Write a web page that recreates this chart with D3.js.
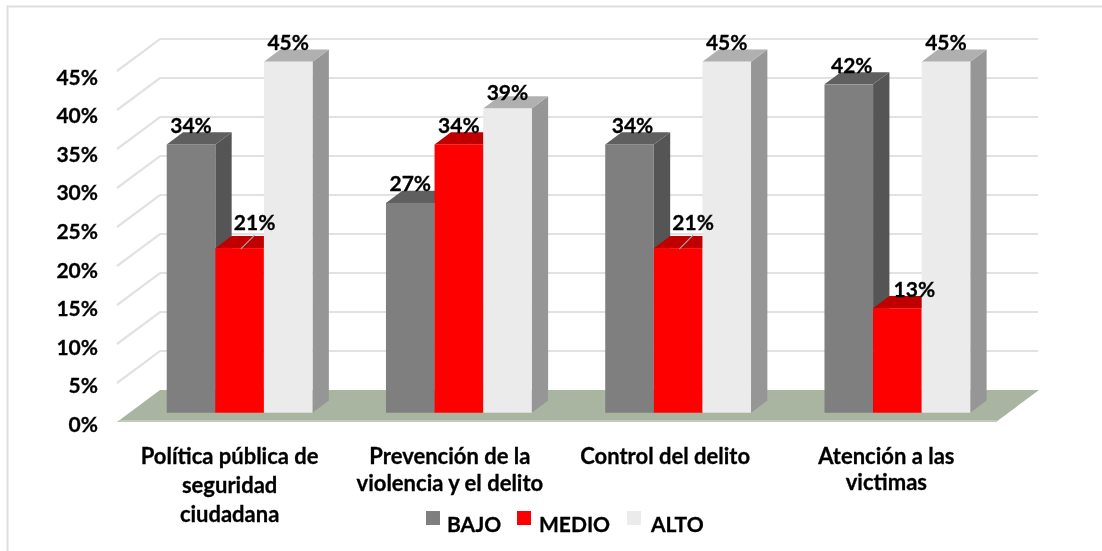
<html>
<head>
<title>Seguridad ciudadana</title>
<script src="https://d3js.org/d3.v7.min.js"></script>
<style>
body { margin: 0; background-color: #fff; }
svg { display: block; font-family: Lato, 'Noto Sans', sans-serif; font-weight: 700; fill: #000; }
text { stroke: #000; stroke-width: 0.3px; }
</style>
</head>
<body>
<svg id="svg"></svg>
<script>

var categories = ["Política pública de seguridad ciudadana", "Prevención de la violencia y el delito", "Control del delito", "Atención a las victimas"];
var series = ["BAJO", "MEDIO", "ALTO"];
var bajo = [34.4, 26.9, 34.4, 42.1];
var medio = [21.1, 34.4, 21.1, 13.4];
var alto = [45, 39, 45, 45];
var yTicks = [0, 5, 10, 15, 20, 25, 30, 35, 40, 45];

var values = { "BAJO": bajo, "MEDIO": medio, "ALTO": alto };

var colors = {
	"BAJO": { front: "#7f7f7f", top: "#5f5f5f", side: "#555555" },
	"MEDIO": { front: "#ff0000", top: "#c00000", side: "#a00000" },
	"ALTO": { front: "#ebebeb", top: "#b0b0b0", side: "#969696" }
};

var root = d3.select("#svg").attr("width", 1102).attr("height", 551);

// the original is a soft screenshot
root.append("defs").append("filter").attr("id", "soft")
	.attr("filterUnits", "userSpaceOnUse").attr("x", 0).attr("y", 0).attr("width", 1102).attr("height", 551)
	.append("feGaussianBlur").attr("stdDeviation", 0.45);
var svg = root.append("g").attr("filter", "url(#soft)");

// outer frame, only top and left show
svg.append("path").attr("d", "M1102,6.5H7.5V551").attr("fill", "none").attr("stroke", "#dedede").attr("stroke-width", 2);

var y = d3.scaleLinear().domain([0, 45]).range([422, 71]);
var wallX = 43, wallY = -32;   // floor depth
var barShift = 0.29, barDepth = 0.38;   // share of the floor depth

var x0 = d3.scaleBand().domain(categories).range([130, 1007]).paddingInner(0.335).paddingOuter(0.1675);
var x1 = d3.scaleBand().domain(series).range([0, x0.bandwidth()]);

var floorLeft = 117, floorRight = 996;

// back wall grid
yTicks.filter(function (d) { return d > 0; }).forEach(function (d) {
	svg.append("path")
		.attr("d", "M" + floorLeft + "," + y(d) + "L" + (floorLeft + wallX) + "," + (y(d) + wallY) + "H" + (floorRight + wallX - 1))
		.attr("fill", "none").attr("stroke", "#e2e2e2").attr("stroke-width", 2.2);
});

// floor
svg.append("path")
	.attr("d", "M" + floorLeft + "," + y(0) + "L" + (floorLeft + wallX) + "," + (y(0) + wallY) + "H" + (floorRight + wallX) + "L" + floorRight + "," + y(0) + "Z")
	.attr("fill", "#a9b5a1");
svg.append("line")
	.attr("x1", floorLeft + 2).attr("x2", floorRight + 1).attr("y1", y(0) - 1).attr("y2", y(0) - 1)
	.attr("stroke", "#c3cbbd").attr("stroke-width", 2);

// y axis labels sit on their own, tighter scale than the wall
var yLabels = d3.scaleLinear().domain([0, 45]).range([424.5, 77.5]);
var axis = d3.axisLeft(yLabels).tickValues(yTicks).tickFormat(function (d) { return d + "%"; }).tickSize(0).tickPadding(0);
var axisG = svg.append("g").attr("transform", "translate(98,0)").call(axis);
axisG.select(".domain").remove();
axisG.selectAll("text").style("font-size", "21px").style("font-family", "Lato").style("font-weight", 700);

// bars, left to right so each one covers the side of the one before
var dx = wallX * barDepth, dy = wallY * barDepth;
var baseY = y(0) + wallY * barShift;

categories.forEach(function (cat, i) {
	series.forEach(function (s) {
		var v = values[s][i];
		var left = x0(cat) + x1(s);
		var right = left + x1.bandwidth();
		var top = y(v) + wallY * barShift;
		var c = colors[s];

		svg.append("path")
			.attr("d", "M" + right + "," + top + "l" + dx + "," + dy + "V" + (baseY + dy) + "L" + right + "," + baseY + "Z")
			.attr("fill", c.side);
		svg.append("path")
			.attr("d", "M" + left + "," + top + "l" + dx + "," + dy + "H" + (right + dx) + "L" + right + "," + top + "Z")
			.attr("fill", c.top);
		svg.append("rect")
			.attr("x", left).attr("y", top)
			.attr("width", x1.bandwidth()).attr("height", baseY - top)
			.attr("fill", c.front);
	});
});

// data labels go on top of all the bars, some were moved by hand
var labelMove = { "0MEDIO": 15, "2MEDIO": 15, "3MEDIO": 17, "3BAJO": 3, "2BAJO": 3 };
var labelLift = { "0MEDIO": 18, "2MEDIO": 18, "3MEDIO": 11, "1ALTO": 9 };

categories.forEach(function (cat, i) {
	series.forEach(function (s) {
		var v = values[s][i];
		var key = i + s;
		var cx = x0(cat) + x1(s) + x1.bandwidth() / 2;
		var top = y(v) + wallY * barShift;

		if (labelLift[key] == 18) { // leader line for the moved labels
			svg.append("line")
				.attr("x1", cx + 1).attr("y1", top + 1)
				.attr("x2", cx + 15).attr("y2", top - 13)
				.attr("stroke", "#a6a6a6").attr("stroke-width", 1.3);
		}

		svg.append("text")
			.attr("x", cx + (labelMove[key] || 0))
			.attr("y", top - (labelLift[key] || 11.5))
			.attr("text-anchor", "middle")
			.style("font-size", "21px")
			.text(d3.format(".0f")(v) + "%");
	});
});

// category labels, broken by hand like the original
var catLines = [
	["Política pública de", "seguridad", "ciudadana"],
	["Prevención de la", "violencia y el delito"],
	["Control del delito"],
	["Atención a las", "victimas"]
];
var catCenter = [-10, -9, -13, -11];
var catStep = [29, 27, 0, 26];

catLines.forEach(function (lines, i) {
	var cx = x0(categories[i]) + x0.bandwidth() / 2 + catCenter[i];
	lines.forEach(function (line, j) {
		svg.append("text")
			.attr("x", cx)
			.attr("y", 464 + j * catStep[i])
			.attr("text-anchor", "middle")
			.style("font-size", "22px")
			.text(line);
	});
});

// legend
var legendX = d3.scaleOrdinal().domain(series).range([426, 517, 627]);
var legendText = d3.scaleOrdinal().domain(series).range([447, 539, 651]);

series.forEach(function (s) {
	svg.append("rect")
		.attr("x", legendX(s)).attr("y", 511)
		.attr("width", 14).attr("height", 14)
		.attr("fill", colors[s].front);
	svg.append("text")
		.attr("x", legendText(s)).attr("y", 531.5)
		.style("font-size", "21px")
		.text(s);
});

</script>
</body>
</html>
